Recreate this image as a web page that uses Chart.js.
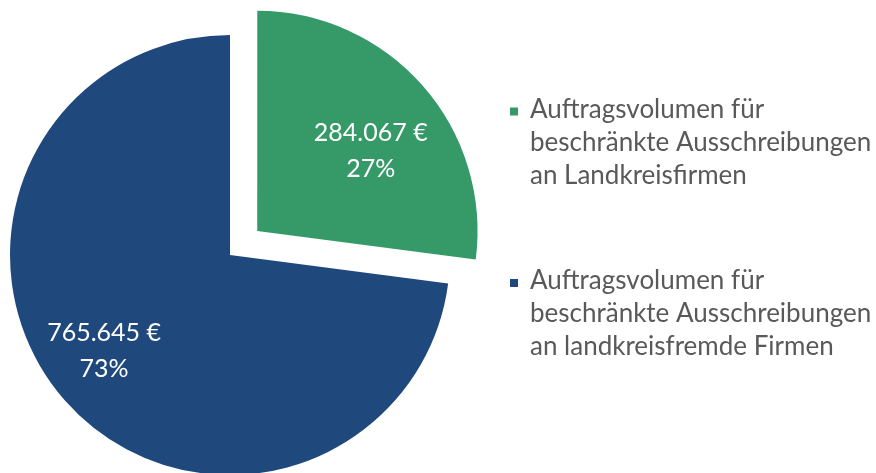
<!DOCTYPE html>
<html>
<head>
<meta charset="utf-8">
<script src="https://cdn.jsdelivr.net/npm/chart.js@4.4.1/dist/chart.umd.min.js"></script>
<style>
  html, body { margin: 0; padding: 0; background: #ffffff; }
  #wrap { width: 876px; height: 473px; position: relative; }
</style>
</head>
<body>
<div id="wrap"><canvas id="c" width="876" height="473"></canvas></div>
<script>
// Category labels, one entry per slice (already split into legend lines)
const categories = [
  ['Auftragsvolumen für', 'beschränkte Ausschreibungen', 'an Landkreisfirmen'],
  ['Auftragsvolumen für', 'beschränkte Ausschreibungen', 'an landkreisfremde Firmen']
];
// Order volume in euros
const volumes = [284067, 765645];
// Slice colours
const sliceColors = ['#359A68', '#1F497D'];

const FONT = 'Lato, "Open Sans", sans-serif';
const euro = new Intl.NumberFormat('de-DE');

// Value + percentage labels inside each slice
const sliceLabels = {
  id: 'sliceLabels',
  afterDatasetsDraw(chart, args, opts) {
    const ctx = chart.ctx;
    const meta = chart.getDatasetMeta(0);
    const data = chart.data.datasets[0].data;
    const total = data.reduce((a, b) => a + b, 0);
    ctx.save();
    ctx.fillStyle = '#ffffff';
    ctx.font = opts.fontSize + 'px ' + FONT;
    ctx.textAlign = 'center';
    ctx.textBaseline = 'middle';
    meta.data.forEach((arc, i) => {
      const p = arc.getProps(['x', 'y', 'startAngle', 'endAngle', 'outerRadius'], true);
      const mid = (p.startAngle + p.endAngle) / 2;
      const shift = (arc.options.offset || 0) / 4;
      const ox = p.x + Math.cos(mid) * shift;
      const oy = p.y + Math.sin(mid) * shift;
      const a = mid + opts.angleNudge;
      const r = p.outerRadius * opts.radiusFraction[i];
      const cx = ox + Math.cos(a) * r;
      const cy = oy + Math.sin(a) * r + opts.baselineFix;
      const lines = [
        euro.format(data[i]) + ' €',
        Math.round(data[i] / total * 100) + '%'
      ];
      ctx.fillText(lines[0], cx, cy - opts.lineGap / 2);
      ctx.fillText(lines[1], cx, cy + opts.lineGap / 2);
    });
    ctx.restore();
  }
};

// Legend on the right with wrapped category names
const sideLegend = {
  id: 'sideLegend',
  afterDraw(chart, args, opts) {
    const ctx = chart.ctx;
    const labels = chart.data.labels;
    const colors = chart.data.datasets[0].backgroundColor;
    ctx.save();
    ctx.font = opts.fontSize + 'px ' + FONT;
    ctx.textAlign = 'left';
    ctx.textBaseline = 'alphabetic';
    labels.forEach((lines, i) => {
      const base = opts.top + i * opts.entryGap;
      ctx.fillStyle = colors[i];
      ctx.fillRect(opts.boxX, base - 10, opts.boxSize, opts.boxSize);
      ctx.fillStyle = opts.color;
      lines.forEach((line, j) => {
        ctx.fillText(line, opts.textX, base + j * opts.lineHeight);
      });
    });
    ctx.restore();
  }
};

new Chart(document.getElementById('c'), {
  type: 'pie',
  data: {
    labels: categories,
    datasets: [{
      data: volumes,
      backgroundColor: sliceColors,
      borderWidth: 0,
      offset: [145, 0],
      hoverOffset: 0
    }]
  },
  options: {
    responsive: false,
    animation: false,
    events: [],
    radius: 220,
    layout: { padding: { left: 0, right: 416, top: 37, bottom: 0 } },
    plugins: {
      legend: { display: false },
      tooltip: { enabled: false },
      sliceLabels: { fontSize: 25, lineGap: 36, baselineFix: 3.5, angleNudge: 5 * Math.PI / 180, radiusFraction: [0.64, 0.71] },
      sideLegend: { fontSize: 26, color: '#595959', top: 117.5, entryGap: 171.5, lineHeight: 33, boxX: 510, boxSize: 8, textX: 530 }
    }
  },
  plugins: [sliceLabels, sideLegend]
});
</script>
</body>
</html>
